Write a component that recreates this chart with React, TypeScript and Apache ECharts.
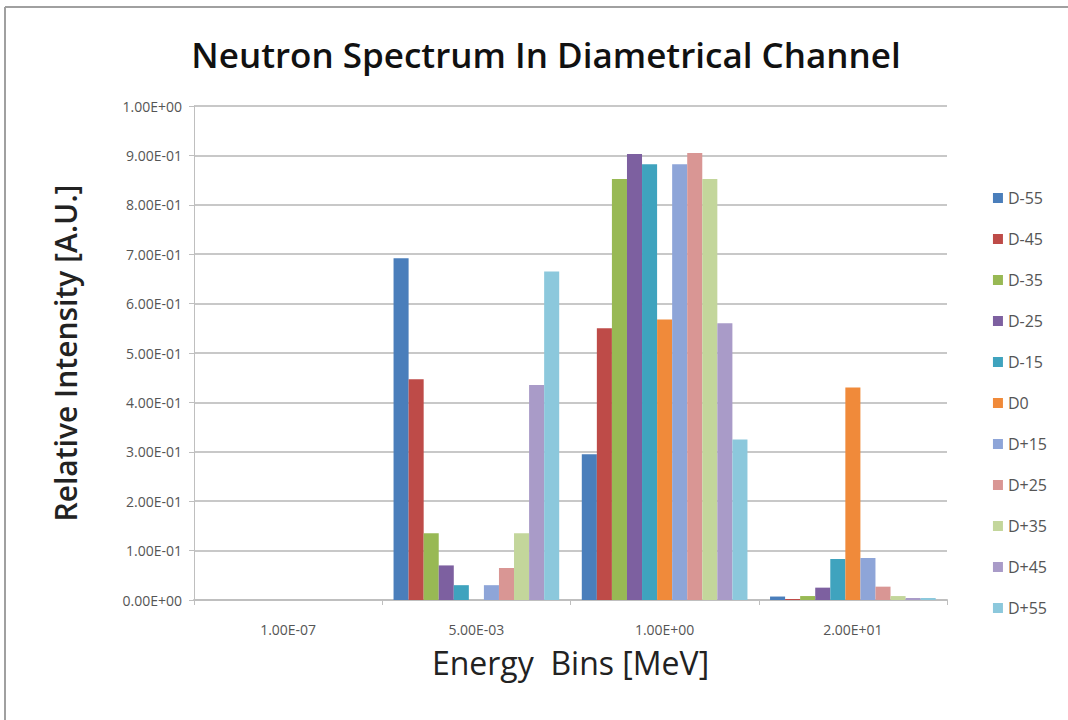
import React, { useEffect, useRef } from "react";
import * as echarts from "echarts";

const categories = ["1.00E-07", "5.00E-03", "1.00E+00", "2.00E+01"];
const seriesNames = ["D-55", "D-45", "D-35", "D-25", "D-15", "D0", "D+15", "D+25", "D+35", "D+45", "D+55"];
const colors = ["#4A7EBB", "#BE4B48", "#98B954", "#7D60A0", "#3FA3BE", "#F08A3A", "#8EA5D8", "#D99694", "#C3D69B", "#A99BC8", "#8CC8DC"];
const dM55 = [0, 0.692, 0.295, 0.007];
const dM45 = [0, 0.447, 0.55, 0.002];
const dM35 = [0, 0.135, 0.852, 0.008];
const dM25 = [0, 0.07, 0.903, 0.025];
const dM15 = [0, 0.03, 0.882, 0.083];
const d0 = [0, 0, 0.568, 0.43];
const dP15 = [0, 0.03, 0.882, 0.085];
const dP25 = [0, 0.065, 0.905, 0.027];
const dP35 = [0, 0.135, 0.852, 0.008];
const dP45 = [0, 0.435, 0.56, 0.004];
const dP55 = [0, 0.665, 0.325, 0.004];
const seriesValues = [dM55, dM45, dM35, dM25, dM15, d0, dP15, dP25, dP35, dP45, dP55];
const yTickLabels = ["0.00E+00", "1.00E-01", "2.00E-01", "3.00E-01", "4.00E-01", "5.00E-01", "6.00E-01", "7.00E-01", "8.00E-01", "9.00E-01", "1.00E+00"];

export default function App() {
  const ref = useRef<HTMLDivElement>(null);
  useEffect(() => {
    const chart = echarts.init(ref.current!, null, { renderer: "svg" });
    chart.setOption({
      animation: false,
      backgroundColor: "#ffffff",
      color: colors,
      title: {
        text: "Neutron Spectrum In Diametrical Channel",
        left: 541,
        textAlign: "center",
        top: 32,
        textStyle: { fontFamily: "Open Sans", fontSize: 35, fontWeight: 600, color: "#111" },
      },
      legend: {
        orient: "vertical",
        right: 16,
        top: 185,
        itemGap: 25,
        itemWidth: 10,
        itemHeight: 10,
        icon: "rect",
        textStyle: { fontFamily: "Open Sans", fontSize: 16, color: "#555" },
        data: seriesNames,
      },
      grid: { left: 194, right: 121, top: 106, bottom: 120 },
      xAxis: {
        type: "category",
        data: categories,
        name: "Energy  Bins [MeV]",
        nameLocation: "middle",
        nameGap: 46,
        nameTextStyle: { fontFamily: "Open Sans", fontSize: 32, color: "#222" },
        axisLine: { lineStyle: { color: "#BFBFBF", width: 2 } },
        axisTick: { show: true, length: 5, lineStyle: { color: "#BFBFBF" } },
        axisLabel: { fontFamily: "Open Sans", fontSize: 14, color: "#555", margin: 22 },
      },
      yAxis: {
        type: "value",
        min: 0,
        max: 1,
        interval: 0.1,
        name: "Relative Intensity [A.U.]",
        nameLocation: "middle",
        nameGap: 114,
        nameTextStyle: { fontFamily: "Open Sans", fontSize: 30, fontWeight: 600, color: "#222" },
        axisLine: { show: true, lineStyle: { color: "#BFBFBF", width: 1 } },
        axisTick: { show: true, length: 5, lineStyle: { color: "#BFBFBF" } },
        splitLine: { lineStyle: { color: "#C8C8C8", width: 2 } },
        axisLabel: {
          fontFamily: "Open Sans",
          fontSize: 14,
          color: "#555",
          margin: 12,
          formatter: (v: number) => yTickLabels[Math.round(v * 10)],
        },
      },
      series: seriesNames.map((name, i) => ({
        name,
        type: "bar",
        data: seriesValues[i],
        barGap: "0%",
        barCategoryGap: "12%",
      })),
      graphic: [
        { type: "line", shape: { x1: 5, y1: 7, x2: 1068, y2: 7 }, style: { stroke: "#A0A0A0", lineWidth: 2 } },
        { type: "line", shape: { x1: 5, y1: 7, x2: 5, y2: 720 }, style: { stroke: "#A0A0A0", lineWidth: 2 } },
      ],
    });
    return () => chart.dispose();
  }, []);
  return <div ref={ref} style={{ position: "absolute", left: 0, top: 0, width: 1068, height: 720 }} />;
}
